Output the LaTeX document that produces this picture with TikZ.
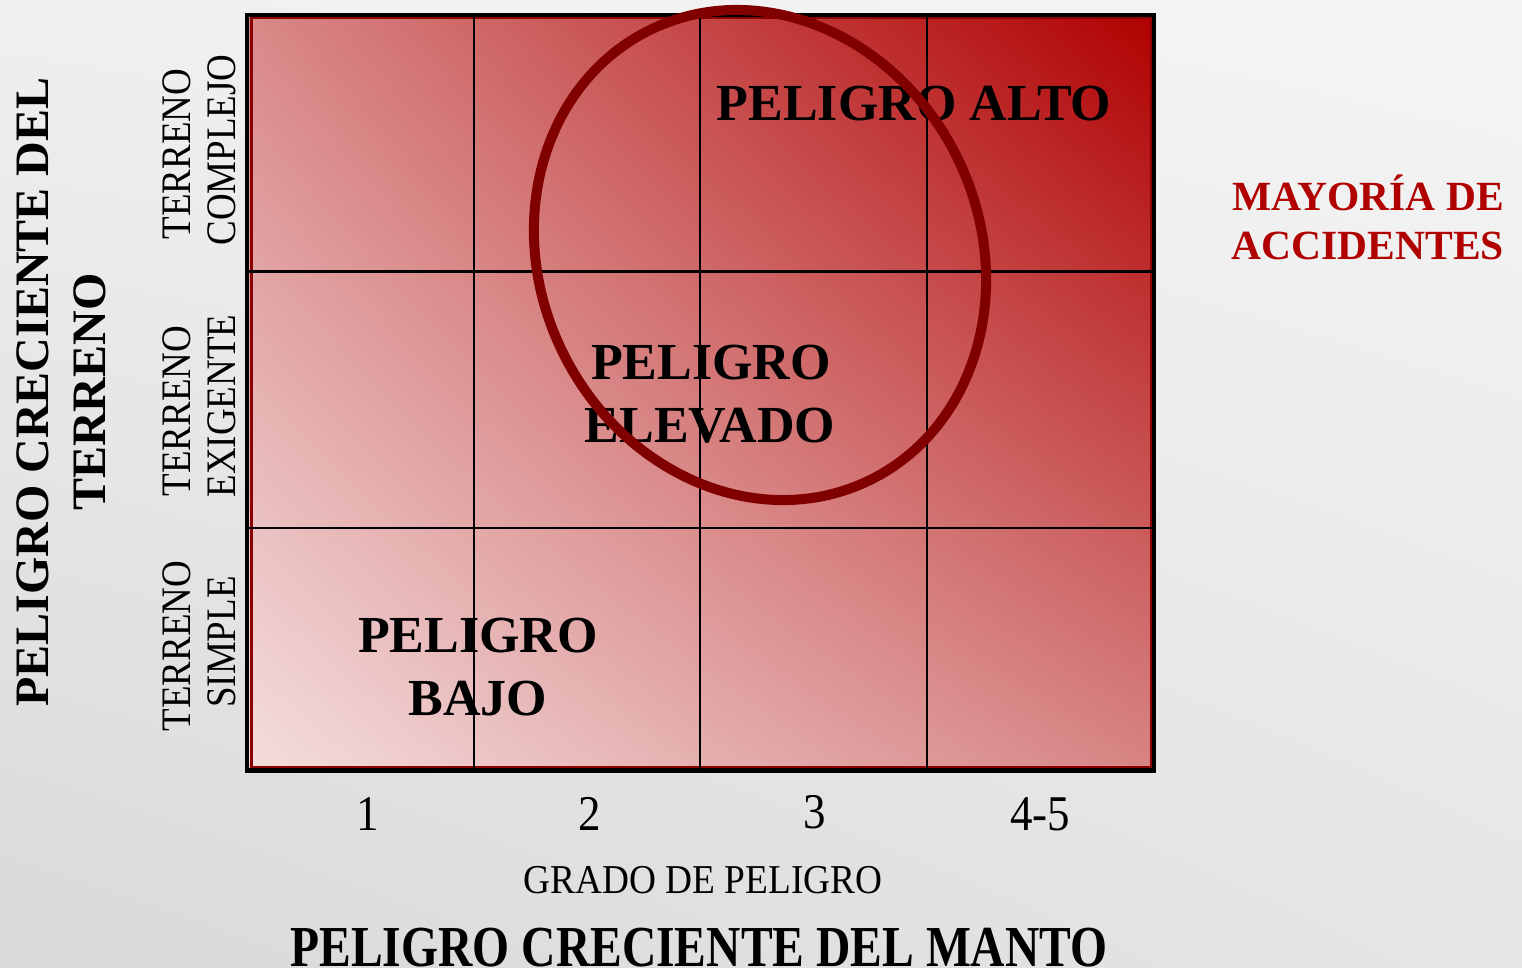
\documentclass[tikz,border=0pt]{standalone}
\usepackage{fontspec}
\setmainfont{Liberation Serif}
\usetikzlibrary{shadings}
\definecolor{ringred}{HTML}{800000}
\definecolor{labred}{HTML}{B00000}
\definecolor{edgered}{HTML}{8B0000}
\definecolor{cellLL}{HTML}{F4DEDE}
\definecolor{cellUR}{HTML}{B00000}
\definecolor{cellUL}{HTML}{D98888}
\definecolor{cellLR}{HTML}{D78484}
\tikzset{
  big/.style={font=\fontsize{52}{52}\selectfont\bfseries, inner sep=0pt, anchor=base},
  sidelab/.style={font=\fontsize{48}{48}\selectfont\bfseries, inner sep=0pt, anchor=base, rotate=90},
  terr/.style={font=\fontsize{42}{42}\selectfont, inner sep=0pt, anchor=base, rotate=90},
  numlab/.style={font=\fontsize{50}{50}\selectfont, inner sep=0pt, anchor=base},
  axlab/.style={font=\fontsize{41}{41}\selectfont, inner sep=0pt, anchor=base},
  mantolab/.style={font=\fontsize{58}{58}\selectfont\bfseries, inner sep=0pt, anchor=base},
  acclab/.style={font=\fontsize{41.5}{41.5}\selectfont\bfseries, text=labred, inner sep=0pt, anchor=base},
  gridline/.style={black, line width=2.5pt},
}
\begin{document}
\begin{tikzpicture}[x=1pt,y=-1pt]
\useasboundingbox (0,0) rectangle (1522,967);
% background
\shade[upper left=black!6, upper right=black!4, lower left=black!15, lower right=black!10] (0,0) rectangle (1522,967);
% grid fill
\shade[upper left=cellUL, upper right=cellUR, lower left=cellLL, lower right=cellLR] (249,15) rectangle (1154,770);
\draw[edgered, line width=3pt] (251,17) rectangle (1151,767);
% inner grid lines
\foreach \gx in {474,700,927} \draw[gridline] (\gx,15) -- (\gx,770);
\foreach \gy in {271.5,528} \draw[gridline] (247,\gy) -- (1154,\gy);
\draw[black, line width=4.5pt] (247,15) rectangle (1154,770.5);
% cell texts
\node[big] (alto) at (914,120) {PELIGRO ALTO};
\node[big] (elev1) at (711,379) {PELIGRO};
\node[big] (elev2) at (710,442) {ELEVADO};
\node[big] (bajo1) at (478,652) {PELIGRO};
\node[big] (bajo2) at (478,715) {BAJO};
% ring
\draw[ringred, line width=10pt, shift={(760,255)}, rotate=25.8] (0,0) ellipse [x radius=220pt, y radius=250.5pt];
% left side labels
\node[sidelab] (side1) at (48,392) {PELIGRO CRECIENTE DEL};
\node[sidelab] (side2) at (105,392) {TERRENO};
\node[terr] (t1a) at (190,154) {\scalebox{0.88}[1]{TERRENO}};
\node[terr] (t1b) at (235,150) {\scalebox{0.88}[1]{COMPLEJO}};
\node[terr] (t2a) at (190,411) {\scalebox{0.88}[1]{TERRENO}};
\node[terr] (t2b) at (235,406) {\scalebox{0.88}[1]{EXIGENTE}};
\node[terr] (t3a) at (190,646) {\scalebox{0.88}[1]{TERRENO}};
\node[terr] (t3b) at (235,642) {\scalebox{0.88}[1]{SIMPLE}};
% bottom numbers
\node[numlab] (n1) at (368,830) {\scalebox{0.9}[1]{1}};
\node[numlab] (n2) at (590,830) {\scalebox{0.9}[1]{2}};
\node[numlab] (n3) at (815,828) {\scalebox{0.9}[1]{3}};
\node[numlab] (n45) at (1040,830) {\scalebox{0.9}[1]{4-5}};
\node[axlab] (grado) at (703,893) {\scalebox{0.91}[1]{GRADO DE PELIGRO}};
\node[mantolab] (manto) at (699,966) {\scalebox{0.82}[1]{PELIGRO CRECIENTE DEL MANTO}};
% right label
\node[acclab] (acc1) at (1368,210) {MAYORÍA DE};
\node[acclab] (acc2) at (1368,259) {ACCIDENTES};
\end{tikzpicture}
\end{document}
